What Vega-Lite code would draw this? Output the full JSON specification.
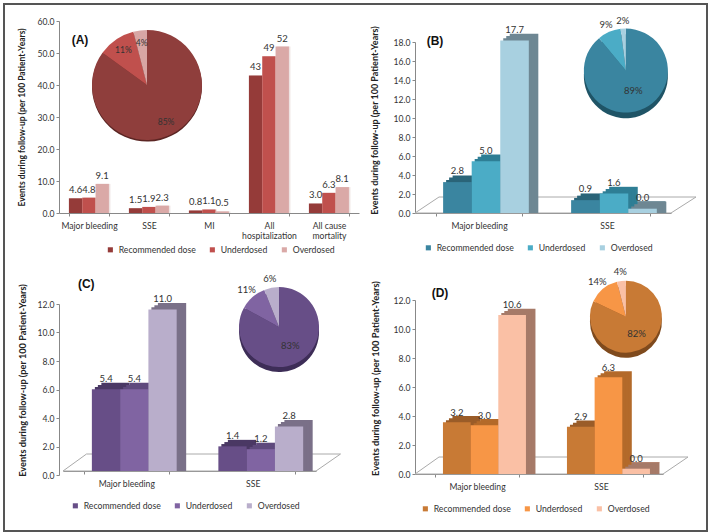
{"$schema":"https://vega.github.io/schema/vega-lite/v6.json","padding":0,"background":"white","bounds":"flush","align":"each","columns":2,"spacing":{"row":87,"column":56},"resolve":{"scale":{"xOffset":"independent"}},
"config":{"view":{"stroke":null},"font":"Lato","axis":{"labelFont":"Lato","labelFontSize":8.6,"labelColor":"#333","grid":false,"titleFont":"Lato","titleFontWeight":"bold","titleFontSize":9,"titleColor":"#222"},"legend":{"labelFont":"Lato","labelFontSize":8.7,"labelColor":"#333","symbolType":"square","symbolSize":26,"orient":"none","direction":"horizontal","columns":3,"columnPadding":12,"title":null,"symbolStrokeWidth":0},"text":{"font":"Lato","fontSize":9.5,"color":"#333"}},
"datasets":{
"a":[{"cat":"Major bleeding","dose":"Recommended dose","value":4.6,"label":"4.6"},{"cat":"Major bleeding","dose":"Underdosed","value":4.8,"label":"4.8"},{"cat":"Major bleeding","dose":"Overdosed","value":9.1,"label":"9.1"},{"cat":"SSE","dose":"Recommended dose","value":1.5,"label":"1.5"},{"cat":"SSE","dose":"Underdosed","value":1.9,"label":"1.9"},{"cat":"SSE","dose":"Overdosed","value":2.3,"label":"2.3"},{"cat":"MI","dose":"Recommended dose","value":0.8,"label":"0.8"},{"cat":"MI","dose":"Underdosed","value":1.1,"label":"1.1"},{"cat":"MI","dose":"Overdosed","value":0.5,"label":"0.5"},{"cat":"All hospitalization","dose":"Recommended dose","value":43,"label":"43"},{"cat":"All hospitalization","dose":"Underdosed","value":49,"label":"49"},{"cat":"All hospitalization","dose":"Overdosed","value":52,"label":"52"},{"cat":"All cause mortality","dose":"Recommended dose","value":3.0,"label":"3.0"},{"cat":"All cause mortality","dose":"Underdosed","value":6.3,"label":"6.3"},{"cat":"All cause mortality","dose":"Overdosed","value":8.1,"label":"8.1"}],
"b":[{"cat":"Major bleeding","dose":"Recommended dose","value":2.8,"label":"2.8"},{"cat":"Major bleeding","dose":"Underdosed","value":5.0,"label":"5.0"},{"cat":"Major bleeding","dose":"Overdosed","value":17.7,"label":"17.7"},{"cat":"SSE","dose":"Recommended dose","value":0.9,"label":"0.9"},{"cat":"SSE","dose":"Underdosed","value":1.6,"label":"1.6"},{"cat":"SSE","dose":"Overdosed","value":0,"label":"0.0"}],
"c":[{"cat":"Major bleeding","dose":"Recommended dose","value":5.4,"label":"5.4"},{"cat":"Major bleeding","dose":"Underdosed","value":5.4,"label":"5.4"},{"cat":"Major bleeding","dose":"Overdosed","value":11.0,"label":"11.0"},{"cat":"SSE","dose":"Recommended dose","value":1.4,"label":"1.4"},{"cat":"SSE","dose":"Underdosed","value":1.2,"label":"1.2"},{"cat":"SSE","dose":"Overdosed","value":2.8,"label":"2.8"}],
"d":[{"cat":"Major bleeding","dose":"Recommended dose","value":3.2,"label":"3.2"},{"cat":"Major bleeding","dose":"Underdosed","value":3.0,"label":"3.0"},{"cat":"Major bleeding","dose":"Overdosed","value":10.6,"label":"10.6"},{"cat":"SSE","dose":"Recommended dose","value":2.9,"label":"2.9"},{"cat":"SSE","dose":"Underdosed","value":6.3,"label":"6.3"},{"cat":"SSE","dose":"Overdosed","value":0,"label":"0.0"}],
"pa":[{"dose":"Recommended dose","share":85,"label":"85%","rank":1},{"dose":"Underdosed","share":11,"label":"11%","rank":2},{"dose":"Overdosed","share":4,"label":"4%","rank":3}],
"pb":[{"dose":"Recommended dose","share":89,"label":"89%","rank":1},{"dose":"Underdosed","share":9,"label":"9%","rank":2},{"dose":"Overdosed","share":2,"label":"2%","rank":3}],
"pc":[{"dose":"Recommended dose","share":83,"label":"83%","rank":1},{"dose":"Underdosed","share":11,"label":"11%","rank":2},{"dose":"Overdosed","share":6,"label":"6%","rank":3}],
"pd":[{"dose":"Recommended dose","share":82,"label":"82%","rank":1},{"dose":"Underdosed","share":14,"label":"14%","rank":2},{"dose":"Overdosed","share":4,"label":"4%","rank":3}]},
"concat":[
{"width":300,"height":192,"resolve":{"scale":{"color":"independent","xOffset":"independent"}},"layer":[
{"data":{"values":[{}]},"mark":{"type":"point","shape":"M-205,-113H498V414H-205Z","size":4,"filled":false,"stroke":"#555","strokeWidth":2,"opacity":1},"encoding":{}},
{"data":{"name":"a"},"mark":{"type":"bar","color":"#eee3e2"},"encoding":{"x":{"field":"cat","type":"nominal","sort":null,"scale":{"paddingInner":0.33,"paddingOuter":0.165},"axis":{"title":null,"domain":true,"ticks":true,"domainColor":"#888","tickColor":"#888","labelAngle":0,"labelAlign":"center","labelBaseline":"top","tickBand":"extent","tickSize":3,"labelPadding":5,"labelLineHeight":10,"labelExpr":"datum.label=='All hospitalization'?['All','hospitalization']:datum.label=='All cause mortality'?['All cause','mortality']:datum.label"}},"xOffset":{"field":"dose","sort":["Recommended dose","Underdosed","Overdosed"],"scale":{"range":[1.5,41.5]}},"y":{"field":"value","type":"quantitative","stack":null,"scale":{"domain":[0,60],"nice":false},"axis":{"tickCount":7,"domain":true,"ticks":true,"domainColor":"#888","tickColor":"#888","labelOverlap":false,"format":".1f","title":"Events during follow-up (per 100 Patient-Years)","titleX":-33,"titleY":96,"titleFontSize":8.5,"tickSize":3}}}},
{"data":{"name":"a"},"mark":{"type":"bar"},"encoding":{"x":{"field":"cat","type":"nominal","sort":null},"xOffset":{"field":"dose","sort":["Recommended dose","Underdosed","Overdosed"],"scale":{"range":[0,40]}},"y":{"field":"value","type":"quantitative","stack":null},"color":{"field":"dose","type":"nominal","sort":null,"scale":{"domain":["Recommended dose","Underdosed","Overdosed"],"range":["#953B39","#C0504D","#DAA9A7"]},"legend":{"legendX":47,"legendY":224}}}},
{"data":{"name":"a"},"mark":{"type":"text","dy":-8},"encoding":{"x":{"field":"cat","type":"nominal","sort":null},"xOffset":{"field":"dose","sort":["Recommended dose","Underdosed","Overdosed"],"scale":{"range":[0,40]}},"y":{"field":"value","type":"quantitative","stack":null},"text":{"field":"label"}}},
{"data":{"name":"pa"},"mark":{"type":"arc","radius":55,"color":"#5b2523"},"encoding":{"x":{"datum":"SSE","bandPosition":0.45},"y":{"datum":39.5},"theta":{"field":"share","type":"quantitative","stack":true},"order":{"field":"rank"}}},
{"data":{"name":"pa"},"mark":{"type":"arc","radius":55},"encoding":{"x":{"datum":"SSE","bandPosition":0.45},"y":{"datum":40},"theta":{"field":"share","type":"quantitative","stack":true},"order":{"field":"rank"},"color":{"field":"dose","type":"nominal","sort":null,"scale":{"domain":["Recommended dose","Underdosed","Overdosed"],"range":["#8F3E3C","#C0504D","#D8A6A4"]},"legend":null}}},
{"data":{"name":"pa"},"mark":{"type":"text","radius":42,"fontSize":8.5},"encoding":{"x":{"datum":"SSE","bandPosition":0.45},"y":{"datum":40},"theta":{"field":"share","type":"quantitative","stack":true},"order":{"field":"rank"},"detail":{"field":"dose"},"text":{"field":"label"}}},
{"data":{"values":[{"cat":"Major bleeding","v":54,"t":"(A)"}]},"mark":{"type":"text","font":"Liberation Sans","fontWeight":"bold","fontSize":12,"color":"#111","dx":-9},"encoding":{"x":{"field":"cat","type":"nominal","sort":null},"y":{"field":"v","type":"quantitative"},"text":{"field":"t"}}}
]},
{"width":256,"height":192,"resolve":{"scale":{"color":"independent","xOffset":"independent"}},"layer":[
{"data":{"values":[{}]},"mark":{"type":"point","shape":"M-128,0H128L153,-16H-104Z","size":4,"filled":false,"stroke":"#aaa","strokeWidth":1,"opacity":1},"encoding":{"y":{"datum":0,"scale":{"domain":[0,18],"nice":false,"range":[192,21]},"axis":{"tickCount":9,"domain":true,"ticks":true,"domainColor":"#888","tickColor":"#888","labelOverlap":false,"format":".1f","title":"Events during follow-up (per 100 Patient-Years)","titleX":-36,"titleY":99,"tickSize":3}}}},
{"data":{"name":"b"},"transform":[{"filter":"datum.value===0"}],"mark":{"type":"point","shape":"M-14,-5H14L24,-12H-4Z","size":4,"filled":true,"color":"#7a95a0","opacity":1},"encoding":{"x":{"field":"cat","type":"nominal","sort":null,"scale":{"domain":["Major bleeding","SSE"],"paddingInner":0.33,"paddingOuter":0.165},"axis":{"title":null,"domain":true,"ticks":true,"domainColor":"#888","tickColor":"#888","labelAngle":0,"labelAlign":"center","labelBaseline":"top","tickBand":"extent","tickSize":3,"labelPadding":5}},"xOffset":{"field":"dose","scale":{"domain":["Recommended dose","Underdosed","Overdosed"],"range":[7,92.7]}},"y":{"field":"value","type":"quantitative","stack":null}}},
{"data":{"name":"b"},"mark":{"type":"bar","yOffset":-11},"encoding":{"x":{"field":"cat","type":"nominal","sort":null},"xOffset":{"field":"dose","sort":["Recommended dose","Underdosed","Overdosed"],"scale":{"range":[16.5,102.2]}},"y":{"field":"value","type":"quantitative","stack":null},"color":{"field":"dose","type":"nominal","sort":null,"scale":{"domain":["Recommended dose","Underdosed","Overdosed"],"range":["#2A6478","#2E7E95","#6E8793"]},"legend":null}}},
{"data":{"name":"b"},"mark":{"type":"bar","yOffset":-8.8},"encoding":{"x":{"field":"cat","type":"nominal","sort":null},"xOffset":{"field":"dose","sort":["Recommended dose","Underdosed","Overdosed"],"scale":{"range":[13,98.7]}},"y":{"field":"value","type":"quantitative","stack":null},"color":{"field":"dose","type":"nominal","sort":null,"scale":{"domain":["Recommended dose","Underdosed","Overdosed"],"range":["#2A6478","#2E7E95","#6E8793"]},"legend":null}}},
{"data":{"name":"b"},"mark":{"type":"bar","yOffset":-6.5},"encoding":{"x":{"field":"cat","type":"nominal","sort":null},"xOffset":{"field":"dose","sort":["Recommended dose","Underdosed","Overdosed"],"scale":{"range":[10,95.7]}},"y":{"field":"value","type":"quantitative","stack":null},"color":{"field":"dose","type":"nominal","sort":null,"scale":{"domain":["Recommended dose","Underdosed","Overdosed"],"range":["#2A6478","#2E7E95","#6E8793"]},"legend":null}}},
{"data":{"name":"b"},"mark":{"type":"bar","yOffset":-4.3},"encoding":{"x":{"field":"cat","type":"nominal","sort":null},"xOffset":{"field":"dose","sort":["Recommended dose","Underdosed","Overdosed"],"scale":{"range":[7,92.7]}},"y":{"field":"value","type":"quantitative","stack":null},"color":{"field":"dose","type":"nominal","sort":null,"scale":{"domain":["Recommended dose","Underdosed","Overdosed"],"range":["#3A85A0","#4BACC6","#A8D0E0"]},"legend":{"legendX":9,"legendY":222}}}},
{"data":{"name":"b"},"mark":{"type":"text","dy":-15},"encoding":{"x":{"field":"cat","type":"nominal","sort":null},"xOffset":{"field":"dose","sort":["Recommended dose","Underdosed","Overdosed"],"scale":{"range":[7,92.7]}},"y":{"field":"value","type":"quantitative","stack":null},"text":{"field":"label"}}},
{"data":{"name":"pb"},"mark":{"type":"arc","radius":42,"color":"#1f5466"},"encoding":{"x":{"datum":"SSE","bandPosition":0.72},"y":{"datum":14.4},"theta":{"field":"share","type":"quantitative","stack":true},"order":{"field":"rank"}}},
{"data":{"name":"pb"},"mark":{"type":"arc","radius":42},"encoding":{"x":{"datum":"SSE","bandPosition":0.72},"y":{"datum":15},"theta":{"field":"share","type":"quantitative","stack":true},"order":{"field":"rank"},"color":{"field":"dose","type":"nominal","sort":null,"scale":{"domain":["Recommended dose","Underdosed","Overdosed"],"range":["#3A85A0","#4BACC6","#A8D0E0"]},"legend":null}}},
{"data":{"name":"pb"},"mark":{"type":"text","radius":22},"encoding":{"x":{"datum":"SSE","bandPosition":0.72},"y":{"datum":15},"theta":{"field":"share","type":"quantitative","stack":true},"order":{"field":"rank"},"detail":{"field":"dose"},"text":{"condition":{"test":"datum.rank===1","field":"label"},"value":""}}},
{"data":{"name":"pb"},"mark":{"type":"text","radius":50},"encoding":{"x":{"datum":"SSE","bandPosition":0.72},"y":{"datum":15},"theta":{"field":"share","type":"quantitative","stack":true},"order":{"field":"rank"},"detail":{"field":"dose"},"text":{"condition":{"test":"datum.rank!==1","field":"label"},"value":""}}},
{"data":{"values":[{"cat":"Major bleeding","v":18.1,"t":"(B)"}]},"mark":{"type":"text","font":"Liberation Sans","fontWeight":"bold","fontSize":12,"color":"#111","dx":-44},"encoding":{"x":{"field":"cat","type":"nominal","sort":null},"y":{"field":"v","type":"quantitative"},"text":{"field":"t"}}}
]},
{"width":257,"height":171,"resolve":{"scale":{"color":"independent","xOffset":"independent"}},"layer":[
{"data":{"values":[{}]},"mark":{"type":"point","shape":"M-124.5,0H128.5L153,-17H-101Z","size":4,"filled":false,"stroke":"#aaa","strokeWidth":1,"opacity":1},"encoding":{"y":{"datum":0,"scale":{"domain":[0,12],"nice":false},"axis":{"position":4,"tickCount":7,"domain":true,"ticks":true,"domainColor":"#888","tickColor":"#888","labelOverlap":false,"format":".1f","title":"Events during follow-up (per 100 Patient-Years)","titleX":-32,"titleY":76,"titleFontSize":9.2,"tickSize":3}}}},
{"data":{"name":"c"},"mark":{"type":"bar","yOffset":-11.2},"encoding":{"x":{"field":"cat","type":"nominal","sort":null,"scale":{"paddingInner":0.33,"paddingOuter":0.165,"range":[4,257]},"axis":{"title":null,"domain":true,"ticks":true,"domainColor":"#888","tickColor":"#888","labelAngle":0,"labelAlign":"center","labelBaseline":"top","tickBand":"extent","tickSize":3,"labelPadding":5}},"xOffset":{"field":"dose","sort":["Recommended dose","Underdosed","Overdosed"],"scale":{"range":[17.5,102.3]}},"y":{"field":"value","type":"quantitative","stack":null},"color":{"field":"dose","type":"nominal","sort":null,"scale":{"domain":["Recommended dose","Underdosed","Overdosed"],"range":["#4A3864","#5F4A7D","#7A7088"]},"legend":null}}},
{"data":{"name":"c"},"mark":{"type":"bar","yOffset":-9},"encoding":{"x":{"field":"cat","type":"nominal","sort":null},"xOffset":{"field":"dose","sort":["Recommended dose","Underdosed","Overdosed"],"scale":{"range":[14,98.8]}},"y":{"field":"value","type":"quantitative","stack":null},"color":{"field":"dose","type":"nominal","sort":null,"scale":{"domain":["Recommended dose","Underdosed","Overdosed"],"range":["#4A3864","#5F4A7D","#7A7088"]},"legend":null}}},
{"data":{"name":"c"},"mark":{"type":"bar","yOffset":-7},"encoding":{"x":{"field":"cat","type":"nominal","sort":null},"xOffset":{"field":"dose","sort":["Recommended dose","Underdosed","Overdosed"],"scale":{"range":[11,95.8]}},"y":{"field":"value","type":"quantitative","stack":null},"color":{"field":"dose","type":"nominal","sort":null,"scale":{"domain":["Recommended dose","Underdosed","Overdosed"],"range":["#4A3864","#5F4A7D","#7A7088"]},"legend":null}}},
{"data":{"name":"c"},"mark":{"type":"bar","yOffset":-4.7},"encoding":{"x":{"field":"cat","type":"nominal","sort":null},"xOffset":{"field":"dose","sort":["Recommended dose","Underdosed","Overdosed"],"scale":{"range":[8,92.8]}},"y":{"field":"value","type":"quantitative","stack":null},"color":{"field":"dose","type":"nominal","sort":null,"scale":{"domain":["Recommended dose","Underdosed","Overdosed"],"range":["#674E87","#8064A2","#B9AECB"]},"legend":{"legendX":12,"legendY":201}}}},
{"data":{"name":"c"},"mark":{"type":"text","dy":-15},"encoding":{"x":{"field":"cat","type":"nominal","sort":null},"xOffset":{"field":"dose","sort":["Recommended dose","Underdosed","Overdosed"],"scale":{"range":[8,92.8]}},"y":{"field":"value","type":"quantitative","stack":null},"text":{"field":"label"}}},
{"data":{"name":"pc"},"mark":{"type":"arc","radius":40,"color":"#3d2d57"},"encoding":{"x":{"datum":"SSE","bandPosition":0.81},"y":{"datum":9.75},"theta":{"field":"share","type":"quantitative","stack":true},"order":{"field":"rank"}}},
{"data":{"name":"pc"},"mark":{"type":"arc","radius":40},"encoding":{"x":{"datum":"SSE","bandPosition":0.81},"y":{"datum":10.1},"theta":{"field":"share","type":"quantitative","stack":true},"order":{"field":"rank"},"color":{"field":"dose","type":"nominal","sort":null,"scale":{"domain":["Recommended dose","Underdosed","Overdosed"],"range":["#674E87","#8064A2","#B9AECB"]},"legend":null}}},
{"data":{"name":"pc"},"mark":{"type":"text","radius":22},"encoding":{"x":{"datum":"SSE","bandPosition":0.81},"y":{"datum":10.1},"theta":{"field":"share","type":"quantitative","stack":true},"order":{"field":"rank"},"detail":{"field":"dose"},"text":{"condition":{"test":"datum.rank===1","field":"label"},"value":""}}},
{"data":{"name":"pc"},"mark":{"type":"text","radius":49},"encoding":{"x":{"datum":"SSE","bandPosition":0.81},"y":{"datum":10.1},"theta":{"field":"share","type":"quantitative","stack":true},"order":{"field":"rank"},"detail":{"field":"dose"},"text":{"condition":{"test":"datum.rank!==1","field":"label"},"value":""}}},
{"data":{"values":[{"cat":"Major bleeding","v":13.1,"t":"(C)"}]},"mark":{"type":"text","font":"Liberation Sans","fontWeight":"bold","fontSize":12,"color":"#111","dx":-40},"encoding":{"x":{"field":"cat","type":"nominal","sort":null},"y":{"field":"v","type":"quantitative"},"text":{"field":"t"}}}
]},
{"width":248,"height":174,"resolve":{"scale":{"color":"independent","xOffset":"independent"}},"layer":[
{"data":{"values":[{}]},"mark":{"type":"point","shape":"M-124,0H124L149,-17H-100Z","size":4,"filled":false,"stroke":"#aaa","strokeWidth":1,"opacity":1},"encoding":{"y":{"datum":0,"scale":{"domain":[0,12],"nice":false},"axis":{"tickCount":7,"domain":true,"ticks":true,"domainColor":"#888","tickColor":"#888","labelOverlap":false,"format":".1f","title":"Events during follow-up (per 100 Patient-Years)","titleX":-35,"titleY":78,"titleFontSize":9.3,"tickSize":3}}}},
{"data":{"name":"d"},"transform":[{"filter":"datum.value===0"}],"mark":{"type":"point","shape":"M-14,-5H14L24,-12H-4Z","size":4,"filled":true,"color":"#C08D78","opacity":1},"encoding":{"x":{"field":"cat","type":"nominal","sort":null,"scale":{"domain":["Major bleeding","SSE"],"paddingInner":0.33,"paddingOuter":0.165},"axis":{"title":null,"domain":true,"ticks":true,"domainColor":"#888","tickColor":"#888","labelAngle":0,"labelAlign":"center","labelBaseline":"top","tickBand":"extent","tickSize":3,"labelPadding":5}},"xOffset":{"field":"dose","scale":{"domain":["Recommended dose","Underdosed","Overdosed"],"range":[7.5,90.5]}},"y":{"field":"value","type":"quantitative","stack":null}}},
{"data":{"name":"d"},"mark":{"type":"bar","yOffset":-11.5},"encoding":{"x":{"field":"cat","type":"nominal","sort":null},"xOffset":{"field":"dose","sort":["Recommended dose","Underdosed","Overdosed"],"scale":{"range":[17,100]}},"y":{"field":"value","type":"quantitative","stack":null},"color":{"field":"dose","type":"nominal","sort":null,"scale":{"domain":["Recommended dose","Underdosed","Overdosed"],"range":["#9A5C28","#B36A2A","#A67A68"]},"legend":null}}},
{"data":{"name":"d"},"mark":{"type":"bar","yOffset":-9.3},"encoding":{"x":{"field":"cat","type":"nominal","sort":null},"xOffset":{"field":"dose","sort":["Recommended dose","Underdosed","Overdosed"],"scale":{"range":[13.5,96.5]}},"y":{"field":"value","type":"quantitative","stack":null},"color":{"field":"dose","type":"nominal","sort":null,"scale":{"domain":["Recommended dose","Underdosed","Overdosed"],"range":["#9A5C28","#B36A2A","#A67A68"]},"legend":null}}},
{"data":{"name":"d"},"mark":{"type":"bar","yOffset":-7.3},"encoding":{"x":{"field":"cat","type":"nominal","sort":null},"xOffset":{"field":"dose","sort":["Recommended dose","Underdosed","Overdosed"],"scale":{"range":[10.5,93.5]}},"y":{"field":"value","type":"quantitative","stack":null},"color":{"field":"dose","type":"nominal","sort":null,"scale":{"domain":["Recommended dose","Underdosed","Overdosed"],"range":["#9A5C28","#B36A2A","#A67A68"]},"legend":null}}},
{"data":{"name":"d"},"mark":{"type":"bar","yOffset":-5.3},"encoding":{"x":{"field":"cat","type":"nominal","sort":null},"xOffset":{"field":"dose","sort":["Recommended dose","Underdosed","Overdosed"],"scale":{"range":[7.5,90.5]}},"y":{"field":"value","type":"quantitative","stack":null},"color":{"field":"dose","type":"nominal","sort":null,"scale":{"domain":["Recommended dose","Underdosed","Overdosed"],"range":["#C87A35","#F79646","#FAC0A5"]},"legend":{"legendX":6,"legendY":204}}}},
{"data":{"name":"d"},"mark":{"type":"text","dy":-15},"encoding":{"x":{"field":"cat","type":"nominal","sort":null},"xOffset":{"field":"dose","sort":["Recommended dose","Underdosed","Overdosed"],"scale":{"range":[7.5,90.5]}},"y":{"field":"value","type":"quantitative","stack":null},"text":{"field":"label"}}},
{"data":{"name":"pd"},"mark":{"type":"arc","radius":36,"color":"#7f4a1d"},"encoding":{"x":{"datum":"SSE","bandPosition":0.8},"y":{"datum":10.5},"theta":{"field":"share","type":"quantitative","stack":true},"order":{"field":"rank"}}},
{"data":{"name":"pd"},"mark":{"type":"arc","radius":36},"encoding":{"x":{"datum":"SSE","bandPosition":0.8},"y":{"datum":10.85},"theta":{"field":"share","type":"quantitative","stack":true},"order":{"field":"rank"},"color":{"field":"dose","type":"nominal","sort":null,"scale":{"domain":["Recommended dose","Underdosed","Overdosed"],"range":["#C87A35","#F79646","#FAC0A5"]},"legend":null}}},
{"data":{"name":"pd"},"mark":{"type":"text","radius":20},"encoding":{"x":{"datum":"SSE","bandPosition":0.8},"y":{"datum":10.85},"theta":{"field":"share","type":"quantitative","stack":true},"order":{"field":"rank"},"detail":{"field":"dose"},"text":{"condition":{"test":"datum.rank===1","field":"label"},"value":""}}},
{"data":{"name":"pd"},"mark":{"type":"text","radius":45},"encoding":{"x":{"datum":"SSE","bandPosition":0.8},"y":{"datum":10.85},"theta":{"field":"share","type":"quantitative","stack":true},"order":{"field":"rank"},"detail":{"field":"dose"},"text":{"condition":{"test":"datum.rank!==1","field":"label"},"value":""}}},
{"data":{"values":[{"cat":"Major bleeding","v":12.5,"t":"(D)"}]},"mark":{"type":"text","font":"Liberation Sans","fontWeight":"bold","fontSize":12,"color":"#111","dx":-37},"encoding":{"x":{"field":"cat","type":"nominal","sort":null},"y":{"field":"v","type":"quantitative"},"text":{"field":"t"}}}
]}
]}
